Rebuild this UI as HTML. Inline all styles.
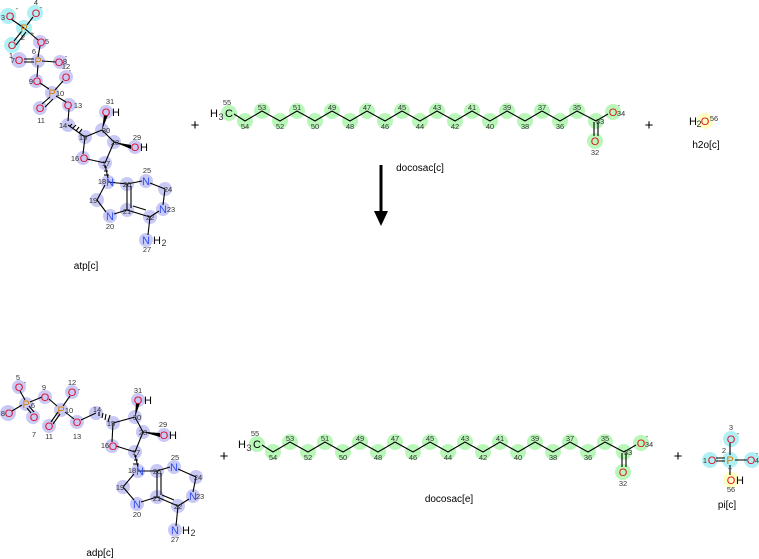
<!DOCTYPE html>
<html><head><meta charset="utf-8"><style>
html,body{margin:0;padding:0;background:#fff}
svg{display:block;font-family:"Liberation Sans","DejaVu Sans",sans-serif}
.n{font-size:7.5px;fill:#333;text-anchor:middle}
.a{font-size:11px;text-anchor:middle}
.O{fill:#e0102a}.N{fill:#3050f0}.P{fill:#d88000}.K{fill:#000}
.b{stroke:#000;stroke-width:1.1;fill:none}
.pu{fill:#c9c9f6}.cy{fill:#aef0f4}.gr{fill:#b9f7b9}.ye{fill:#ffffc0}
.lab{font-size:10px;fill:#000;text-anchor:middle}
</style></head><body>
<svg width="759" height="559" viewBox="0 0 759 559" xmlns="http://www.w3.org/2000/svg">

<!-- ===== ATP ===== -->
<g>
<circle class="cy" cx="8" cy="16" r="8"/><circle class="cy" cx="35" cy="13" r="8"/><circle class="cy" cx="24" cy="28" r="8"/><circle class="cy" cx="12" cy="45" r="8"/>
<circle class="pu" cx="40" cy="42" r="7"/><circle class="pu" cx="19" cy="60" r="8"/><circle class="pu" cx="38" cy="61" r="7"/><circle class="pu" cx="60" cy="62" r="7"/>
<circle class="pu" cx="66" cy="77" r="7"/><circle class="pu" cx="36" cy="81" r="7"/><circle class="pu" cx="52" cy="93" r="7"/><circle class="pu" cx="40" cy="108" r="7"/>
<circle class="pu" cx="69" cy="105" r="7"/><circle class="pu" cx="68" cy="125" r="7"/><circle class="pu" cx="85" cy="137" r="7"/><circle class="pu" cx="102" cy="130" r="7"/>
<circle class="pu" cx="106" cy="112" r="7"/><circle class="pu" cx="114" cy="142" r="7"/><circle class="pu" cx="135" cy="147" r="7"/><circle class="pu" cx="105" cy="163" r="7"/>
<circle class="pu" cx="83" cy="158" r="7"/><circle class="pu" cx="108" cy="182" r="7"/><circle class="pu" cx="127" cy="184" r="7"/><circle class="pu" cx="146" cy="181" r="7"/>
<circle class="pu" cx="165" cy="189" r="7"/><circle class="pu" cx="163" cy="209" r="7"/><circle class="pu" cx="150" cy="217" r="7"/><circle class="pu" cx="127" cy="210" r="7"/>
<circle class="pu" cx="110" cy="216" r="7"/><circle class="pu" cx="97" cy="200" r="7"/><circle class="pu" cx="146" cy="240" r="7"/>
<path class="b" d="M11,19 L24,28 M33,17 L27,25 M24,28 L38,40 M22,31 L14,41 M26,32 L16,45 M40,46 L38,57 M24,59 L34,59 M24,62 L34,62 M42,61 L56,62 M38,65 L37,77 M40,83 L49,89 M55,90 L63,81 M50,97 L42,104 M53,99 L45,107 M56,96 L66,102 M69,109 L68,121 M68,125 L85,137 M85,137 L102,130 M102,130 L114,142 M114,142 L105,163 M105,163 L87,159 M83,154 L85,137 M114,142 L131,147 M108,178 L105,165 M108,182 L127,184 M127,184 L142,181 M150,183 L165,189 M165,189 L163,205 M159,211 L150,217 M150,217 L127,210 M127,184 L127,210 M131,186 L131,208 M127,210 L114,214 M106,212 L97,200 M97,200 L105,185 M150,217 L148,235 M146,210 L133,206"/>
<path d="M102,130 L108,115 L104,115 Z M114,142 L131,145 L131,149 Z"/>
<path class="b" d="M70,126 L72,124 M73,128 L76,125 M76,131 L79,127 M79,133 L82,129" stroke-width="0.9"/>
<path class="b" d="M104,167 L107,167 M104,171 L108,171 M104,175 L109,175" stroke-width="0.9"/>
<text class="a O" x="10" y="20">O</text><text class="n" x="3" y="20">3</text><text class="n" x="17" y="11">-</text>
<text class="a O" x="36" y="17">O</text><text class="n" x="36" y="5">4</text><text class="n" x="41" y="10">-</text>
<text class="a P" x="24" y="32">P</text><text class="n" x="23" y="40">2</text><text class="n" x="32" y="36">+</text>
<text class="a O" x="12" y="49">O</text>
<text class="a O" x="41" y="46">O</text><text class="n" x="47" y="44">5</text>
<text class="n" x="11" y="58">1</text><text class="a O" x="19" y="64">O</text><text class="n" x="13" y="63">7</text>
<text class="a P" x="38" y="65">P</text><text class="n" x="34" y="54">6</text>
<text class="a O" x="59" y="66">O</text><text class="n" x="65" y="64">8</text><text class="n" x="66" y="59">-</text>
<text class="n" x="66" y="69">12</text>
<text class="a O" x="66" y="81">O</text><text class="n" x="70" y="73">-</text>
<text class="a O" x="37" y="85">O</text><text class="n" x="31" y="84">9</text>
<text class="a P" x="52" y="97">P</text><text class="n" x="60" y="96">10</text>
<text class="a O" x="40" y="112">O</text><text class="n" x="41" y="123">11</text>
<text class="a O" x="68" y="109">O</text><text class="n" x="78" y="108">13</text>
<text class="n" x="63" y="128">14</text><text class="n" x="83" y="140">15</text><text class="n" x="106" y="133">30</text>
<text class="a O" x="106" y="116">O</text><text class="a K" x="116" y="116">H</text><text class="n" x="110" y="104">31</text>
<text class="n" x="115" y="145">28</text>
<text class="a O" x="135" y="151">O</text><text class="a K" x="144" y="151">H</text><text class="n" x="137" y="140">29</text>
<text class="n" x="106" y="166">17</text>
<text class="a O" x="84" y="162">O</text><text class="n" x="75" y="161">16</text>
<text class="a N" x="110" y="186">N</text><text class="n" x="102" y="184">18</text>
<text class="n" x="127" y="187">26</text>
<text class="a N" x="146" y="185">N</text><text class="n" x="147" y="173">25</text>
<text class="n" x="168" y="192">24</text>
<text class="a N" x="163" y="213">N</text><text class="n" x="171" y="212">23</text>
<text class="n" x="150" y="220">22</text><text class="n" x="127" y="214">21</text>
<text class="a N" x="110" y="220">N</text><text class="n" x="110" y="229">20</text>
<text class="n" x="93" y="203">19</text>
<text class="a N" x="146" y="244">N</text><text class="a K" x="157" y="244">H</text><text class="n" x="164" y="246" style="font-size:9px">2</text><text class="n" x="147" y="252">27</text>
<text class="lab" x="86" y="269">atp[c]</text>
</g>

<!-- ===== ADP ===== -->
<g>
<circle class="pu" cx="19" cy="387" r="7"/><circle class="pu" cx="26" cy="404" r="7"/><circle class="pu" cx="8" cy="413" r="8"/><circle class="pu" cx="33" cy="417" r="7"/>
<circle class="pu" cx="45" cy="397" r="7"/><circle class="pu" cx="61" cy="410" r="7"/><circle class="pu" cx="72" cy="392" r="7"/><circle class="pu" cx="49" cy="426" r="7"/>
<circle class="pu" cx="77" cy="422" r="7"/><circle class="pu" cx="96" cy="413" r="7"/><circle class="pu" cx="113" cy="423" r="7"/><circle class="pu" cx="135" cy="417" r="7"/>
<circle class="pu" cx="138" cy="400" r="7"/><circle class="pu" cx="143" cy="432" r="7"/><circle class="pu" cx="164" cy="435" r="7"/><circle class="pu" cx="135" cy="452" r="7"/>
<circle class="pu" cx="112" cy="446" r="7"/><circle class="pu" cx="138" cy="471" r="7"/><circle class="pu" cx="157" cy="471" r="7"/><circle class="pu" cx="174" cy="467" r="7"/>
<circle class="pu" cx="196" cy="477" r="7"/><circle class="pu" cx="193" cy="496" r="7"/><circle class="pu" cx="178" cy="506" r="7"/><circle class="pu" cx="157" cy="497" r="7"/>
<circle class="pu" cx="137" cy="504" r="7"/><circle class="pu" cx="123" cy="487" r="7"/><circle class="pu" cx="175" cy="530" r="7"/>
<path class="b" d="M20,391 L25,400 M22,405 L12,411 M27,408 L31,413 M29,406 L34,412 M30,402 L42,397 M49,399 L57,406 M63,406 L70,396 M58,412 L51,422 M60,414 L53,424 M65,412 L74,419 M81,420 L96,413 M113,423 L135,417 M135,417 L143,432 M143,432 L135,452 M135,452 L116,446 M112,442 L113,423 M143,432 L160,434 M138,467 L135,455 M138,471 L157,471 M157,471 L170,467 M178,469 L196,477 M196,477 L193,492 M189,499 L178,506 M178,506 L157,497 M157,471 L157,497 M161,473 L161,495 M157,497 L141,502 M134,500 L123,487 M123,487 L134,474 M178,506 L176,526 M174,500 L162,495"/>
<path d="M135,417 L140,403 L136,403 Z M143,432 L160,433 L160,437 Z"/>
<path class="b" d="M99,412 L99,416 M103,413 L102,418 M106,414 L105,420 M110,415 L108,422" stroke-width="0.9"/>
<path class="b" d="M134,456 L137,456 M134,460 L138,460 M133,464 L139,464" stroke-width="0.9"/>
<text class="a O" x="19" y="391">O</text><text class="n" x="18" y="380">5</text><text class="n" x="25" y="385">-</text>
<text class="a P" x="26" y="408">P</text><text class="n" x="33" y="408">6</text>
<text class="a O" x="9" y="417">O</text><text class="n" x="3" y="416">8</text>
<text class="a O" x="34" y="421">O</text><text class="n" x="34" y="437">7</text>
<text class="a O" x="45" y="401">O</text><text class="n" x="44" y="390">9</text>
<text class="a P" x="61" y="414">P</text><text class="n" x="69" y="413">10</text>
<text class="a O" x="72" y="396">O</text><text class="n" x="72" y="385">12</text><text class="n" x="79" y="392">-</text>
<text class="a O" x="49" y="430">O</text><text class="n" x="49" y="439">11</text>
<text class="a O" x="77" y="426">O</text><text class="n" x="77" y="439">13</text>
<text class="n" x="97" y="412">14</text><text class="n" x="111" y="426">15</text><text class="n" x="137" y="420">30</text>
<text class="a O" x="138" y="404">O</text><text class="a K" x="148" y="404">H</text><text class="n" x="138" y="393">31</text>
<text class="n" x="143" y="435">28</text>
<text class="a O" x="164" y="439">O</text><text class="a K" x="173" y="439">H</text><text class="n" x="163" y="427">29</text>
<text class="n" x="136" y="455">17</text>
<text class="a O" x="113" y="450">O</text><text class="n" x="105" y="448">16</text>
<text class="a N" x="140" y="475">N</text><text class="n" x="132" y="473">18</text>
<text class="n" x="157" y="474">26</text>
<text class="a N" x="174" y="471">N</text><text class="n" x="175" y="460">25</text>
<text class="n" x="198" y="480">24</text>
<text class="a N" x="193" y="500">N</text><text class="n" x="200" y="499">23</text>
<text class="n" x="178" y="509">22</text><text class="n" x="157" y="501">21</text>
<text class="a N" x="137" y="508">N</text><text class="n" x="137" y="517">20</text>
<text class="n" x="120" y="490">19</text>
<text class="a N" x="175" y="534">N</text><text class="a K" x="186" y="534">H</text><text class="n" x="193" y="536" style="font-size:9px">2</text><text class="n" x="175" y="542">27</text>
<text class="lab" x="100" y="556">adp[c]</text>
</g>

<!-- ===== docosac[c] ===== -->
<g>
<circle class="gr" cx="229" cy="113" r="8"/>
<circle class="gr" cx="245" cy="121" r="8"/><circle class="gr" cx="280" cy="121" r="8"/><circle class="gr" cx="315" cy="121" r="8"/><circle class="gr" cx="350" cy="121" r="8"/><circle class="gr" cx="385" cy="121" r="8"/><circle class="gr" cx="420" cy="121" r="8"/><circle class="gr" cx="455" cy="121" r="8"/><circle class="gr" cx="490" cy="121" r="8"/><circle class="gr" cx="525" cy="121" r="8"/><circle class="gr" cx="560" cy="121" r="8"/><circle class="gr" cx="596" cy="121" r="8"/>
<circle class="gr" cx="262" cy="111" r="8"/><circle class="gr" cx="297" cy="111" r="8"/><circle class="gr" cx="332" cy="111" r="8"/><circle class="gr" cx="367" cy="111" r="8"/><circle class="gr" cx="402" cy="111" r="8"/><circle class="gr" cx="437" cy="111" r="8"/><circle class="gr" cx="472" cy="111" r="8"/><circle class="gr" cx="507" cy="111" r="8"/><circle class="gr" cx="542" cy="111" r="8"/><circle class="gr" cx="577" cy="111" r="8"/>
<circle class="gr" cx="613" cy="112" r="8"/><circle class="gr" cx="595" cy="141" r="8"/>
<polyline class="b" points="234,114 245,121 262,111 280,121 297,111 315,121 332,111 350,121 367,111 385,121 402,111 420,121 437,111 455,121 472,111 490,121 507,111 525,121 542,111 560,121 577,111 596,121 608,114"/>
<path class="b" d="M594,122 L594,136 M598,122 L598,136"/>
<text class="a K" x="214" y="117">H</text><text class="n" x="221" y="120" style="font-size:9px">3</text><text class="a K" x="229" y="117">C</text>
<text class="n" x="227" y="105">55</text>
<text class="n" x="245" y="129">54</text><text class="n" x="280" y="129">52</text><text class="n" x="315" y="129">50</text><text class="n" x="350" y="129">48</text><text class="n" x="385" y="129">46</text><text class="n" x="420" y="129">44</text><text class="n" x="455" y="129">42</text><text class="n" x="490" y="129">40</text><text class="n" x="525" y="129">38</text><text class="n" x="560" y="129">36</text>
<text class="n" x="262" y="110">53</text><text class="n" x="297" y="110">51</text><text class="n" x="332" y="110">49</text><text class="n" x="367" y="110">47</text><text class="n" x="402" y="110">45</text><text class="n" x="437" y="110">43</text><text class="n" x="472" y="110">41</text><text class="n" x="507" y="110">39</text><text class="n" x="542" y="110">37</text><text class="n" x="577" y="110">35</text>
<text class="n" x="600" y="124">33</text>
<text class="a O" x="613" y="116">O</text><text class="n" x="621" y="116">34</text><text class="n" x="619" y="108">-</text>
<text class="a O" x="595" y="145">O</text><text class="n" x="595" y="155">32</text>
<text class="lab" x="420" y="171">docosac[c]</text>
</g>

<!-- ===== docosac[e] ===== -->
<g transform="translate(28,331)">
<circle class="gr" cx="229" cy="113" r="8"/>
<circle class="gr" cx="245" cy="121" r="8"/><circle class="gr" cx="280" cy="121" r="8"/><circle class="gr" cx="315" cy="121" r="8"/><circle class="gr" cx="350" cy="121" r="8"/><circle class="gr" cx="385" cy="121" r="8"/><circle class="gr" cx="420" cy="121" r="8"/><circle class="gr" cx="455" cy="121" r="8"/><circle class="gr" cx="490" cy="121" r="8"/><circle class="gr" cx="525" cy="121" r="8"/><circle class="gr" cx="560" cy="121" r="8"/><circle class="gr" cx="596" cy="121" r="8"/>
<circle class="gr" cx="262" cy="111" r="8"/><circle class="gr" cx="297" cy="111" r="8"/><circle class="gr" cx="332" cy="111" r="8"/><circle class="gr" cx="367" cy="111" r="8"/><circle class="gr" cx="402" cy="111" r="8"/><circle class="gr" cx="437" cy="111" r="8"/><circle class="gr" cx="472" cy="111" r="8"/><circle class="gr" cx="507" cy="111" r="8"/><circle class="gr" cx="542" cy="111" r="8"/><circle class="gr" cx="577" cy="111" r="8"/>
<circle class="gr" cx="613" cy="112" r="8"/><circle class="gr" cx="595" cy="141" r="8"/>
<polyline class="b" points="234,114 245,121 262,111 280,121 297,111 315,121 332,111 350,121 367,111 385,121 402,111 420,121 437,111 455,121 472,111 490,121 507,111 525,121 542,111 560,121 577,111 596,121 608,114"/>
<path class="b" d="M594,122 L594,136 M598,122 L598,136"/>
<text class="a K" x="214" y="117">H</text><text class="n" x="221" y="120" style="font-size:9px">3</text><text class="a K" x="229" y="117">C</text>
<text class="n" x="227" y="105">55</text>
<text class="n" x="245" y="129">54</text><text class="n" x="280" y="129">52</text><text class="n" x="315" y="129">50</text><text class="n" x="350" y="129">48</text><text class="n" x="385" y="129">46</text><text class="n" x="420" y="129">44</text><text class="n" x="455" y="129">42</text><text class="n" x="490" y="129">40</text><text class="n" x="525" y="129">38</text><text class="n" x="560" y="129">36</text>
<text class="n" x="262" y="110">53</text><text class="n" x="297" y="110">51</text><text class="n" x="332" y="110">49</text><text class="n" x="367" y="110">47</text><text class="n" x="402" y="110">45</text><text class="n" x="437" y="110">43</text><text class="n" x="472" y="110">41</text><text class="n" x="507" y="110">39</text><text class="n" x="542" y="110">37</text><text class="n" x="577" y="110">35</text>
<text class="n" x="600" y="124">33</text>
<text class="a O" x="613" y="116">O</text><text class="n" x="621" y="116">34</text><text class="n" x="619" y="108">-</text>
<text class="a O" x="595" y="145">O</text><text class="n" x="595" y="155">32</text>
<text class="lab" x="421" y="171">docosac[e]</text>
</g>

<!-- ===== H2O ===== -->
<circle class="ye" cx="705" cy="121" r="8"/>
<text class="a K" x="693" y="125">H</text><text class="n" x="699" y="127" style="font-size:9px">2</text><text class="a O" x="705" y="125">O</text><text class="n" x="714" y="121">56</text>
<text class="lab" x="706" y="148">h2o[c]</text>

<!-- ===== Pi ===== -->
<circle class="cy" cx="731" cy="439" r="8"/><circle class="cy" cx="710" cy="460" r="8"/><circle class="cy" cx="730" cy="460" r="8"/><circle class="cy" cx="752" cy="460" r="8"/><circle class="ye" cx="731" cy="480" r="8"/>
<path class="b" d="M730,443 L730,455 M716,458 L725,458 M716,461 L725,461 M735,460 L747,460 M730,465 L730,475"/>
<text class="a O" x="731" y="443">O</text><text class="n" x="731" y="430">3</text><text class="n" x="738" y="436">-</text>
<text class="a O" x="712" y="464">O</text><text class="n" x="705" y="463">1</text>
<text class="a P" x="730" y="464">P</text><text class="n" x="724" y="453">2</text>
<text class="a O" x="751" y="464">O</text><text class="n" x="757" y="463">4</text><text class="n" x="757" y="456">-</text>
<text class="n" x="730" y="471">+</text>
<text class="a O" x="731" y="484">O</text><text class="a K" x="740" y="484">H</text><text class="n" x="731" y="492">56</text>
<text class="lab" x="727" y="508">pi[c]</text>

<!-- ===== plus signs ===== -->
<text x="195" y="130" style="font-size:15px;text-anchor:middle">+</text>
<text x="649" y="130" style="font-size:15px;text-anchor:middle">+</text>
<text x="224" y="461" style="font-size:15px;text-anchor:middle">+</text>
<text x="678" y="461" style="font-size:15px;text-anchor:middle">+</text>

<!-- ===== arrow ===== -->
<line x1="381" y1="165" x2="381" y2="214" stroke="#000" stroke-width="3"/>
<path d="M374,211 L388,211 L381,226 Z" fill="#000"/>
</svg>
</body></html>
